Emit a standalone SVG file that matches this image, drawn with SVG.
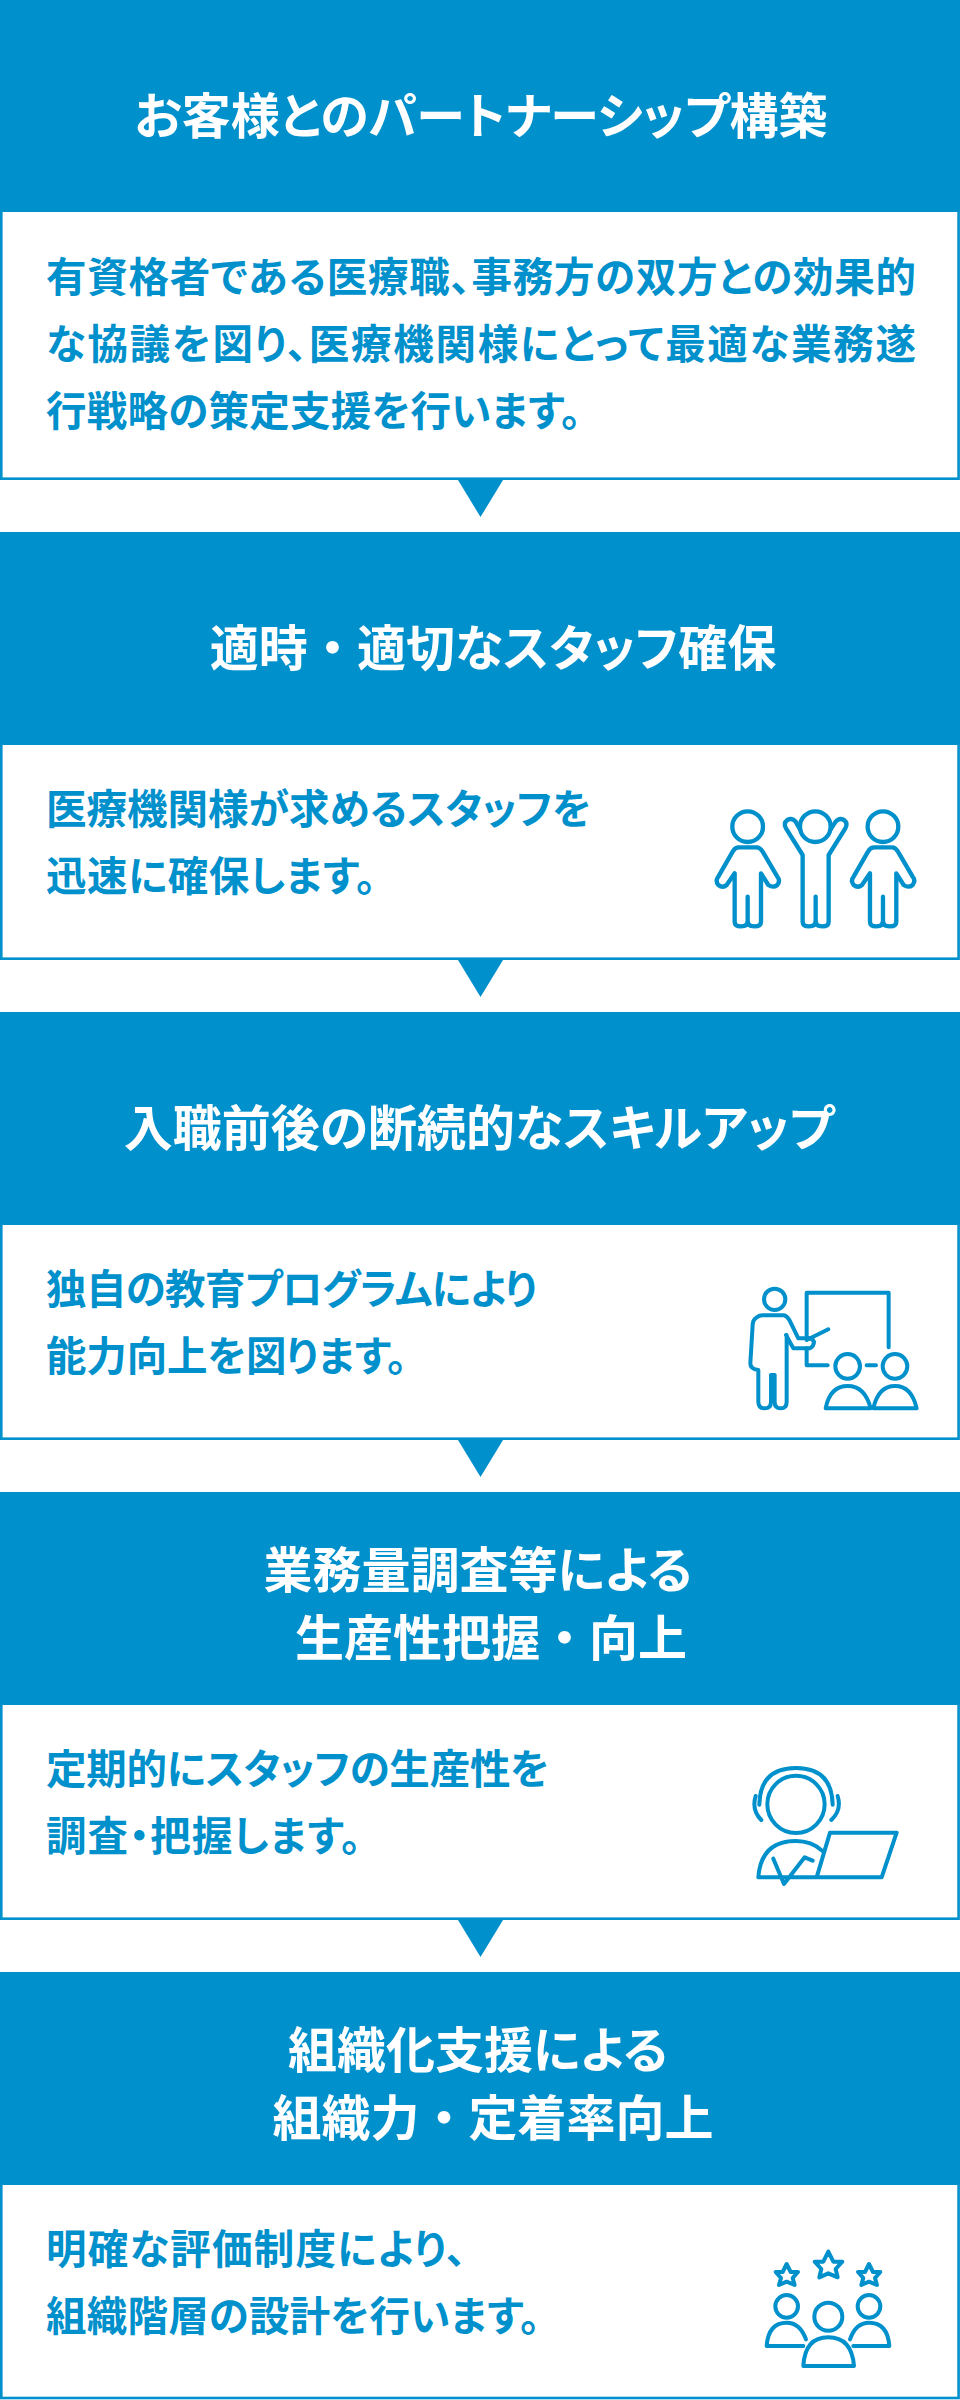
<svg xmlns="http://www.w3.org/2000/svg" width="960" height="2400" viewBox="0 0 960 2400">
<style>
text{font-family:"Noto Sans CJK JP","Noto Sans",sans-serif;font-weight:700;font-feature-settings:"palt"}
.hd{fill:#0090cb}
.bx{fill:#fff;stroke:#0090cb;stroke-width:2.6}
.t{fill:#fff;font-size:49px;text-anchor:middle}
.n{font-feature-settings:normal}
.b{fill:#0090cb;font-size:40.5px}
.ic{fill:none;stroke:#0090cb;stroke-width:13;stroke-linecap:round;stroke-linejoin:round}
</style>
<rect width="960" height="2400" fill="#fff"/>
<g id="connectors" fill="#0090cb">
<polygon points="458,480 503,480 480.5,517"/>
<polygon points="458,960 503,960 480.5,997"/>
<polygon points="458,1440 503,1440 480.5,1477"/>
<polygon points="458,1920 503,1920 480.5,1957"/>
</g>
<g id="step1">
<rect class="hd" x="0" y="0" width="960" height="212"/>
<rect class="bx" x="1.3" y="210.7" width="957.3" height="268"/>
<text class="t" x="481" y="134">お客様とのパートナーシップ構築</text>
<text class="b" x="46" y="292" textLength="870">有資格者である医療職、事務方の双方との効果的</text>
<text class="b" x="46" y="359" textLength="870">な協議を図り、医療機関様にとって最適な業務遂</text>
<text class="b" x="46" y="426" textLength="535">行戦略の策定支援を行います。</text>
</g>
<g id="step2">
<rect class="hd" x="0" y="532" width="960" height="213"/>
<rect class="bx" x="1.3" y="743.7" width="957.3" height="215"/>
<text class="t" x="493" y="666">適時<tspan class="n">・</tspan>適切なスタッフ確保</text>
<text class="b" x="46" y="824" textLength="545">医療機関様が求めるスタッフを</text>
<text class="b" x="46" y="891" textLength="330">迅速に確保します。</text>
<g class="ic" transform="translate(660,760) scale(.3333)">
<circle cx="263" cy="200" r="46"/>
<path d="M224 340V485Q224 499 243 499Q263 499 263 482V410V482Q263 499 283 499Q303 499 303 485V340L325 375Q340 385 352 375Q362 362 352 350L308 275Q300 262 290 262H237Q225 262 218 275L175 350Q165 362 175 375Q188 385 200 375Z"/>
<circle cx="466" cy="200" r="46"/>
<path d="M428 285V485Q428 499 447 499Q467 499 467 482V410V482Q467 499 487 499Q506 499 506 485V285L556 205Q565 190 552 180Q538 172 527 185L512 208M428 285L378 205Q369 190 382 180Q396 172 407 185L420 208"/>
<circle cx="669" cy="200" r="46"/>
<path d="M630 340V485Q630 499 649 499Q669 499 669 482V410V482Q669 499 689 499Q709 499 709 485V340L731 375Q746 385 758 375Q768 362 758 350L714 275Q706 262 696 262H643Q631 262 624 275L581 350Q571 362 581 375Q594 385 606 375Z"/>
</g>
</g>
<g id="step3">
<rect class="hd" x="0" y="1012" width="960" height="213"/>
<rect class="bx" x="1.3" y="1223.7" width="957.3" height="215"/>
<text class="t" x="479" y="1146">入職前後の断続的なスキルアップ</text>
<text class="b" x="46" y="1304" textLength="491">独自の教育プログラムにより</text>
<text class="b" x="46" y="1371" textLength="361">能力向上を図ります。</text>
<g class="ic" transform="translate(660,1240) scale(.3333)" style="stroke-width:12">
<circle cx="344" cy="178" r="32"/>
<path d="M378 285L400 325Q405 325 450 325Q462 318 462 305Q455 292 440 295L415 295L388 240Q380 226 370 226H308Q298 226 290 232Q278 240 278 255L271 370Q271 388 295 390V485Q295 505 314 505Q333 505 333 485V405H344V485Q344 505 362 505Q380 505 380 485V285"/>
<path d="M440 300V158H686V322M440 300L505 268M440 325V376H503M620 376H648"/>
<circle cx="563" cy="379" r="37"/>
<circle cx="705" cy="379" r="37"/>
<path d="M497 505Q510 438 563 438Q615 438 632 505ZM640 505Q655 438 705 438Q755 438 770 505Z"/>
</g>
</g>
<g id="step4">
<rect class="hd" x="0" y="1492" width="960" height="213"/>
<rect class="bx" x="1.3" y="1703.7" width="957.3" height="215"/>
<text class="t" x="478" y="1588">業務量調査等による</text>
<text class="t" x="491" y="1656">生産性把握<tspan class="n">・</tspan>向上</text>
<text class="b" x="46" y="1784" textLength="503">定期的にスタッフの生産性を</text>
<text class="b" x="46" y="1851" textLength="315">調査・把握します。</text>
<g class="ic" transform="translate(660,1740) scale(.3333)" style="stroke-width:12">
<circle cx="408" cy="193" r="86"/>
<path d="M298 194Q300 84 408 84Q516 84 518 194M287 168Q274 210 304 240M533 168Q546 210 514 240"/>
<path d="M295 412Q303 303 408 303Q455 303 486 332M295 412H665L710 278H510L470 412M340 356L372 432L434 352L458 362"/>
</g>
</g>
<g id="step5">
<rect class="hd" x="0" y="1972" width="960" height="213"/>
<rect class="bx" x="1.3" y="2183.7" width="957.3" height="214.3"/>
<text class="t" x="478" y="2068">組織化支援による</text>
<text class="t" x="493" y="2136">組織力<tspan class="n">・</tspan>定着率向上</text>
<text class="b" x="46" y="2264" textLength="420">明確な評価制度により、</text>
<text class="b" x="46" y="2331" textLength="494">組織階層の設計を行います。</text>
<g class="ic" transform="translate(720,2220) scale(.3333)" style="stroke-width:12">
<circle cx="200" cy="259" r="34"/><circle cx="447" cy="259" r="34"/><circle cx="325" cy="290" r="42"/>
<path d="M250 378H140Q145 308 200 308Q240 308 258 358M400 378H508Q503 308 447 308Q407 308 390 358"/>
<path d="M250 438Q255 352 325 352Q395 352 402 438Z"/>
<path d="M325 95L340 125L367 125L347 147L353 172L325 160L298 172L304 147L284 125L310 125Z"/>
<path d="M200 132L212 156L234 156L218 174L224 195L200 185L177 195L183 174L167 156L188 156Z"/>
<path d="M447 132L459 156L481 156L465 174L471 195L447 185L424 195L430 174L414 156L435 156Z"/>
</g>
</g>
</svg>
